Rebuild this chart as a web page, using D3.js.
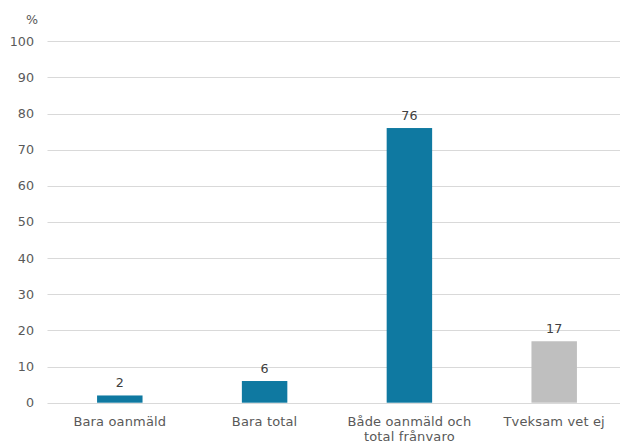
<!DOCTYPE html>
<html><head><meta charset="utf-8">
<script src="https://cdn.jsdelivr.net/npm/d3@7"></script>
<style>body{margin:0;background:#fff}svg{display:block}text{font-family:"DejaVu Sans",Verdana,sans-serif}</style>
</head><body>
<script>
const categories = [["Bara oanmäld"], ["Bara total"], ["Både oanmäld och", "total frånvaro"], ["Tveksam vet ej"]];
const values = [2, 6, 76, 17];
const barColors = ["#0f79a1", "#0f79a1", "#0f79a1", "#bfbfbf"];
const yTicks = [0, 10, 20, 30, 40, 50, 60, 70, 80, 90, 100];
const yUnit = "%";

const W = 620, H = 443;
const svg = d3.select("body").append("svg").attr("width", W).attr("height", H);
const y = d3.scaleLinear().domain([0, 100]).range([402.7, 41.3]);
const x = d3.scaleBand().domain(d3.range(values.length)).range([47.4, 626.6]).padding(0);
const bw = x.step() * 0.314;

// gridlines
svg.append("g").selectAll("line").data(yTicks).join("line")
  .attr("x1", 47.5).attr("x2", W)
  .attr("y1", d => Math.round(y(d)) + 0.5).attr("y2", d => Math.round(y(d)) + 0.5)
  .attr("stroke", "#d9d9d9").attr("stroke-width", 1);

// y tick labels
svg.append("g").selectAll("text").data(yTicks).join("text")
  .attr("x", 34).attr("y", d => y(d)).attr("dy", "0.35em")
  .attr("text-anchor", "end").attr("font-size", 12.7).attr("fill", "#595959")
  .text(d => d);

svg.append("text").attr("x", 32).attr("y", 23.5).attr("text-anchor", "middle")
  .attr("font-size", 12.7).attr("fill", "#595959").text(yUnit);

// bars
svg.append("g").selectAll("rect").data(values).join("rect")
  .attr("x", (d, i) => x(i) + x.bandwidth() / 2 - bw / 2)
  .attr("width", bw)
  .attr("y", d => y(d))
  .attr("height", d => y(0) - y(d))
  .attr("fill", (d, i) => barColors[i]);

// value labels
svg.append("g").selectAll("text").data(values).join("text")
  .attr("x", (d, i) => x(i) + x.bandwidth() / 2)
  .attr("y", d => y(d) - 8.5)
  .attr("text-anchor", "middle").attr("font-size", 12.7).attr("fill", "#404040")
  .text(d => d);

// category labels
const cl = svg.append("g").selectAll("text").data(categories).join("text")
  .attr("x", (d, i) => x(i) + x.bandwidth() / 2)
  .attr("y", 426)
  .attr("text-anchor", "middle").attr("font-size", 13).attr("letter-spacing", 0.15).attr("fill", "#595959");
cl.selectAll("tspan").data(d => d).join("tspan")
  .attr("x", function () { return this.parentNode.getAttribute("x"); })
  .attr("dy", (d, j) => j === 0 ? 0 : 14.8)
  .text(d => d);
</script>
</body></html>
